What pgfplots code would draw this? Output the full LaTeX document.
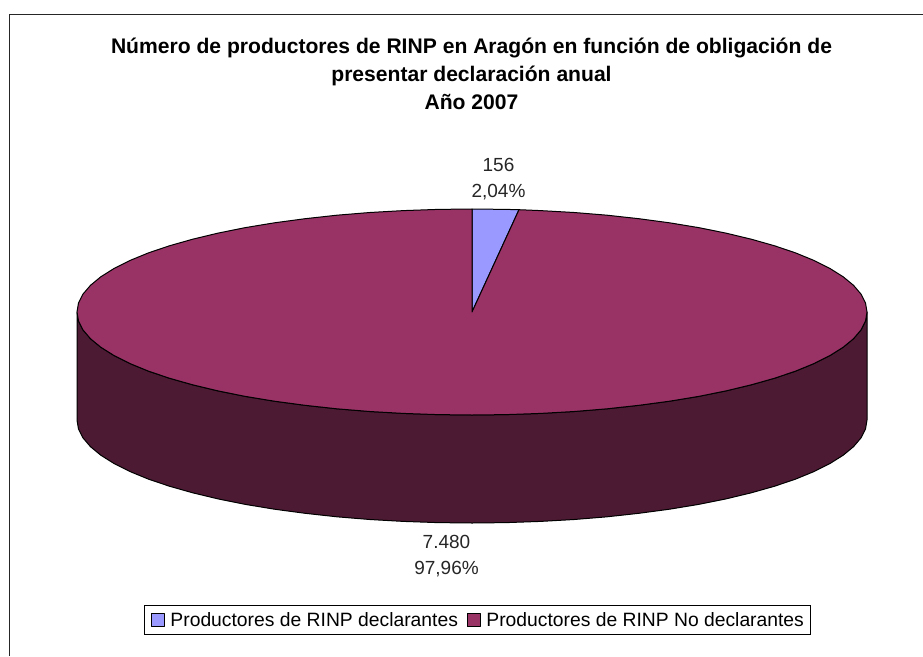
\documentclass[border=0pt]{standalone}
\usepackage{pgfplots}
\pgfplotsset{compat=1.18}
\usepackage{fontspec}
\setmainfont{Liberation Sans}
\definecolor{declara}{HTML}{9999FF}
\definecolor{nodeclara}{HTML}{993366}
\definecolor{pared}{HTML}{4D1A33}
\begin{document}
\begin{tikzpicture}
\useasboundingbox (0,0) rectangle (923pt,656pt);
\begin{axis}[
    scale only axis, width=923pt, height=656pt,
    xmin=0, xmax=923, ymin=0, ymax=656, y dir=reverse,
    hide axis, clip=false,
    legend columns=2,
    legend cell align=left,
    legend style={
        at={(axis cs:477.5,620)}, anchor=center,
        draw=black, line width=0.9pt, font=\fontsize{19.3}{22}\selectfont,
        inner xsep=1pt, inner ysep=5pt,
        /tikz/every odd column/.append style={column sep=4pt},
        /tikz/every even column/.append style={column sep=1pt},
        nodes={inner xsep=2pt},
    },
    legend image code/.code={
        \path[draw=none, fill=none] (-6pt,0pt) -- (13pt,0pt);
        \draw[#1, line width=0.8pt, draw=black] (0pt,-6.5pt) rectangle (13pt,6.5pt);
    },
]
% recuadro (solo se ven los lados izquierdo y superior)
\addplot[forget plot, black!85, line width=1pt] coordinates {(9,656) (9,14) (923,14)};
% pared lateral
\addplot[forget plot, draw=black, line width=1pt, line join=round, fill=pared] coordinates {
    (867,312) (865.5,321) (861,329.9) (853.5,338.7) (843.2,347.2) (830,355.5) (814.1,363.5)
    (795.6,371.1) (774.6,378.2) (751.3,384.8) (725.9,390.9) (698.6,396.4) (669.5,401.2)
    (638.9,405.3) (607.1,408.8) (574.2,411.5) (540.6,413.4) (506.4,414.6) (472,415)
    (437.6,414.6) (403.4,413.4) (369.8,411.5) (336.9,408.8) (305.1,405.3) (274.5,401.2)
    (245.4,396.4) (218.1,390.9) (192.7,384.8) (169.4,378.2) (148.4,371.1) (129.9,363.5)
    (114,355.5) (100.8,347.2) (90.5,338.7) (83,329.9) (78.5,321) (77,312)
    (77,420) (78.5,429) (83,437.9) (90.5,446.7) (100.8,455.2) (114,463.5) (129.9,471.5)
    (148.4,479.1) (169.4,486.2) (192.7,492.8) (218.1,498.9) (245.4,504.4) (274.5,509.2)
    (305.1,513.3) (336.9,516.8) (369.8,519.5) (403.4,521.4) (437.6,522.6) (472,523)
    (506.4,522.6) (540.6,521.4) (574.2,519.5) (607.1,516.8) (638.9,513.3) (669.5,509.2)
    (698.6,504.4) (725.9,498.9) (751.3,492.8) (774.6,486.2) (795.6,479.1) (814.1,471.5)
    (830,463.5) (843.2,455.2) (853.5,446.7) (861,437.9) (865.5,429) (867,420)
} -- cycle;
% porcion declarantes (156)
\addplot[draw=black, line width=1pt, line join=round, fill=declara] coordinates {
    (472,312) (472,209) (506.4,209.4) (519,209.7)
} -- cycle;
\addlegendentry{Productores de RINP declarantes}
% porcion no declarantes (7480)
\addplot[draw=black, line width=1pt, line join=round, fill=nodeclara] coordinates {
    (472,312) (519,209.7) (540.6,210.6) (574.2,212.5) (607.1,215.2) (638.9,218.7) (669.5,222.8)
    (698.6,227.6) (725.9,233.1) (751.3,239.2) (774.6,245.8) (795.6,252.9) (814.1,260.5)
    (830,268.5) (843.2,276.8) (853.5,285.3) (861,294.1) (865.5,303) (867,312)
    (865.5,321) (861,329.9) (853.5,338.7) (843.2,347.2) (830,355.5) (814.1,363.5)
    (795.6,371.1) (774.6,378.2) (751.3,384.8) (725.9,390.9) (698.6,396.4) (669.5,401.2)
    (638.9,405.3) (607.1,408.8) (574.2,411.5) (540.6,413.4) (506.4,414.6) (472,415)
    (437.6,414.6) (403.4,413.4) (369.8,411.5) (336.9,408.8) (305.1,405.3) (274.5,401.2)
    (245.4,396.4) (218.1,390.9) (192.7,384.8) (169.4,378.2) (148.4,371.1) (129.9,363.5)
    (114,355.5) (100.8,347.2) (90.5,338.7) (83,329.9) (78.5,321) (77,312)
    (78.5,303) (83,294.1) (90.5,285.3) (100.8,276.8) (114,268.5) (129.9,260.5) (148.4,252.9)
    (169.4,245.8) (192.7,239.2) (218.1,233.1) (245.4,227.6) (274.5,222.8) (305.1,218.7)
    (336.9,215.2) (369.8,212.5) (403.4,210.6) (437.6,209.4) (472,209)
} -- cycle;
\addlegendentry{Productores de RINP No declarantes\rule{4pt}{0pt}}
% titulo
\node[anchor=base, align=center, font=\fontsize{21.1}{28}\selectfont\bfseries] at (axis cs:471.5,109)
    {Número de productores de RINP en Aragón en función de obligación de\\
     presentar declaración anual\\Año 2007};
% etiquetas de datos
\node[anchor=base, align=center, font=\fontsize{19}{26}\selectfont, text=black!85] at (axis cs:498.5,197) {156\\2,04\%};
\node[anchor=base, align=center, font=\fontsize{19}{26}\selectfont, text=black!85] at (axis cs:446.5,574) {7.480\\97,96\%};
\end{axis}
\end{tikzpicture}
\end{document}
